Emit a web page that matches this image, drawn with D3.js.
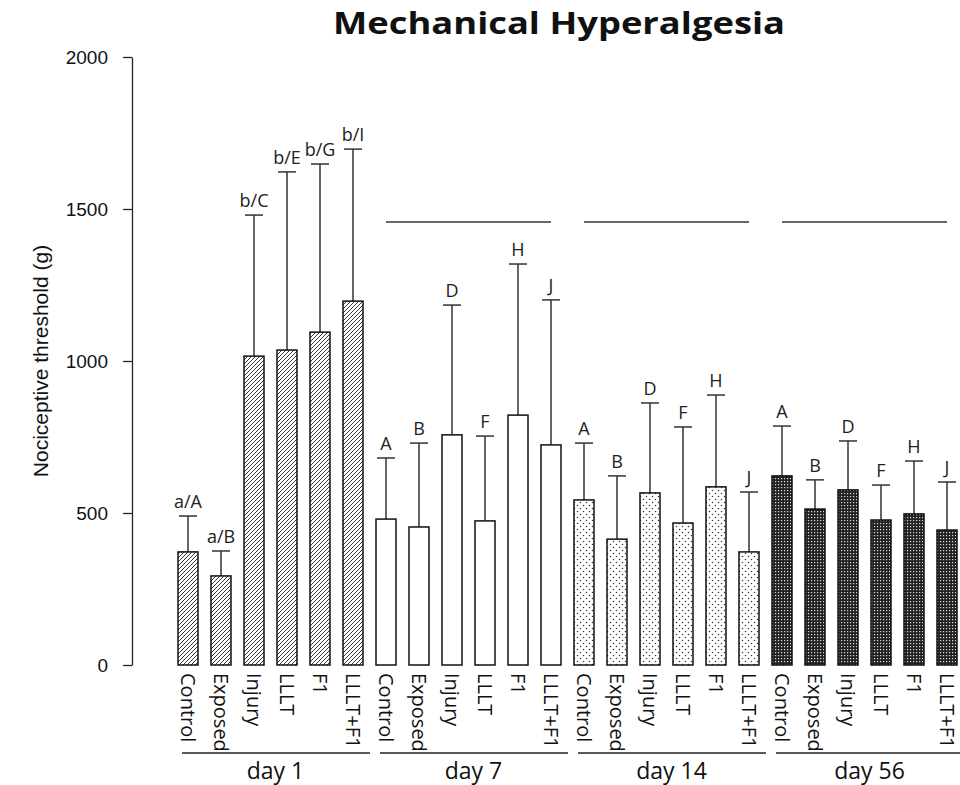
<!DOCTYPE html>
<html>
<head>
<meta charset="utf-8">
<script src="https://cdn.jsdelivr.net/npm/d3@7"></script>
<style>
  body { margin: 0; background: #fff; }
  svg { display: block; }
</style>
</head>
<body>
<div id="chart"></div>
<script>
// Data (mean and SD, grams)
const days = ['day 1', 'day 7', 'day 14', 'day 56'];
const treatments = ['Control', 'Exposed', 'Injury', 'LLLT', 'F1', 'LLLT+F1'];
const day1Mean  = [372, 293, 1016, 1036, 1095, 1197];
const day1Sd    = [118, 82, 464, 586, 553, 500];
const day7Mean  = [480, 454, 757, 474, 822, 724];
const day7Sd    = [201, 276, 427, 279, 497, 477];
const day14Mean = [543, 414, 566, 467, 586, 372];
const day14Sd   = [187, 208, 296, 316, 302, 197];
const day56Mean = [622, 513, 576, 477, 497, 444];
const day56Sd   = [164, 96, 161, 115, 174, 158];
const day1Letters = ['a/A', 'a/B', 'b/C', 'b/E', 'b/G', 'b/I'];
const laterLetters = ['A', 'B', 'D', 'F', 'H', 'J'];
const yTicks = [0, 500, 1000, 1500, 2000];

const means = [day1Mean, day7Mean, day14Mean, day56Mean];
const sds = [day1Sd, day7Sd, day14Sd, day56Sd];
const letters = [day1Letters, laterLetters, laterLetters, laterLetters];
const fills = ['url(#hatch)', '#fff', 'url(#dots)', 'url(#grid)'];

const rows = [];
days.forEach((d, gi) => treatments.forEach((t, ti) => rows.push({
  key: d + '|' + t, day: d, gi, t, mean: means[gi][ti], sd: sds[gi][ti], letter: letters[gi][ti]
})));

const W = 960, H = 785;
const sans = 'Open Sans, sans-serif';
const arial = 'Liberation Sans, Arial, sans-serif';
const svg = d3.select('#chart').append('svg').attr('width', W).attr('height', H);

// patterns
const defs = svg.append('defs');
const hatch = defs.append('pattern').attr('id', 'hatch').attr('patternUnits', 'userSpaceOnUse')
  .attr('width', 4).attr('height', 4);
hatch.append('rect').attr('width', 4).attr('height', 4).attr('fill', '#fff');
hatch.append('path').attr('d', 'M-1,1 l2,-2 M0,4 l4,-4 M3,5 l2,-2')
  .attr('stroke', '#333').attr('stroke-width', 1);

const dots = defs.append('pattern').attr('id', 'dots').attr('patternUnits', 'userSpaceOnUse')
  .attr('width', 6).attr('height', 6);
dots.append('rect').attr('width', 6).attr('height', 6).attr('fill', '#fff');
dots.append('circle').attr('cx', 1.5).attr('cy', 1.5).attr('r', 0.75).attr('fill', '#333');
dots.append('circle').attr('cx', 4.5).attr('cy', 4.5).attr('r', 0.75).attr('fill', '#333');

const grid = defs.append('pattern').attr('id', 'grid').attr('patternUnits', 'userSpaceOnUse')
  .attr('width', 3).attr('height', 3);
grid.append('rect').attr('width', 3).attr('height', 3).attr('fill', '#222');
grid.append('rect').attr('x', 1).attr('y', 1).attr('width', 1.2).attr('height', 1.2).attr('fill', '#ddd');

const x = d3.scaleBand().domain(rows.map(r => r.key)).range([171.5, 963.5])
  .paddingInner(0.394).paddingOuter(0.197);
const y = d3.scaleLinear().domain([0, 2000]).range([665, 57]);
const bw = x.bandwidth();

// y axis
const yAxis = svg.append('g').attr('transform', 'translate(132,0)')
  .call(d3.axisLeft(y).tickValues(yTicks).tickFormat(d3.format('d'))
    .tickSize(9).tickPadding(15).tickSizeOuter(0));
yAxis.select('.domain').attr('stroke', '#222').attr('stroke-width', 1.3);
yAxis.selectAll('.tick line').attr('stroke', '#222').attr('stroke-width', 1.3);
yAxis.selectAll('.tick text').attr('font-family', arial)
  .attr('font-size', 19).attr('fill', '#111');

svg.append('text').attr('transform', `translate(48,${y(1000)}) rotate(-90)`)
  .attr('text-anchor', 'middle').attr('font-family', arial)
  .attr('font-size', 21).attr('fill', '#111').text('Nociceptive threshold (g)');

// title
svg.append('text').attr('x', 333).attr('y', 34)
  .attr('font-family', sans).attr('font-weight', 'bold')
  .attr('font-size', 31).attr('textLength', 452).attr('lengthAdjust', 'spacingAndGlyphs')
  .attr('fill', '#111').text('Mechanical Hyperalgesia');

// error bars (upper only)
const eb = svg.append('g').attr('stroke', '#333').attr('stroke-width', 1.5);
eb.selectAll('line.v').data(rows).join('line').attr('class', 'v')
  .attr('x1', d => x(d.key) + bw / 2).attr('x2', d => x(d.key) + bw / 2)
  .attr('y1', d => y(d.mean)).attr('y2', d => y(d.mean + d.sd));
eb.selectAll('line.cap').data(rows).join('line').attr('class', 'cap')
  .attr('x1', d => x(d.key) + bw / 2 - 9).attr('x2', d => x(d.key) + bw / 2 + 9)
  .attr('y1', d => y(d.mean + d.sd)).attr('y2', d => y(d.mean + d.sd));

// bars
svg.append('g').selectAll('rect').data(rows).join('rect')
  .attr('x', d => x(d.key)).attr('width', bw)
  .attr('y', d => y(d.mean)).attr('height', d => y(0) - y(d.mean))
  .attr('fill', d => fills[d.gi]).attr('stroke', '#111').attr('stroke-width', 1.5);

// letters
svg.append('g').selectAll('text').data(rows).join('text')
  .attr('x', d => x(d.key) + bw / 2).attr('y', d => y(d.mean + d.sd) - 8)
  .attr('text-anchor', 'middle').attr('font-family', sans)
  .attr('font-size', 18).attr('fill', '#222').text(d => d.letter);

// category labels, rotated
svg.append('g').selectAll('text').data(rows).join('text')
  .attr('transform', d => `translate(${x(d.key) + bw / 2},673) rotate(90)`)
  .attr('dy', '0.35em').attr('font-family', sans)
  .attr('font-size', 20).attr('fill', '#111').text(d => d.t);

// group underlines and labels
const groupG = svg.append('g');
days.forEach((d, gi) => {
  const first = x(d + '|' + treatments[0]);
  const last = x(d + '|' + treatments[treatments.length - 1]) + bw;
  groupG.append('line').attr('x1', first + 4).attr('x2', last + 7)
    .attr('y1', 753).attr('y2', 753).attr('stroke', '#222').attr('stroke-width', 1.5);
  groupG.append('text').attr('x', (first + last) / 2 + 5).attr('y', 779)
    .attr('text-anchor', 'middle').attr('font-family', sans)
    .attr('font-size', 23).attr('fill', '#111').text(d);
  // significance line over later days
  if (gi > 0) {
    groupG.append('line').attr('x1', first + bw / 2).attr('x2', last - bw / 2)
      .attr('y1', 222).attr('y2', 222).attr('stroke', '#333').attr('stroke-width', 1.5);
  }
});
</script>
</body>
</html>
